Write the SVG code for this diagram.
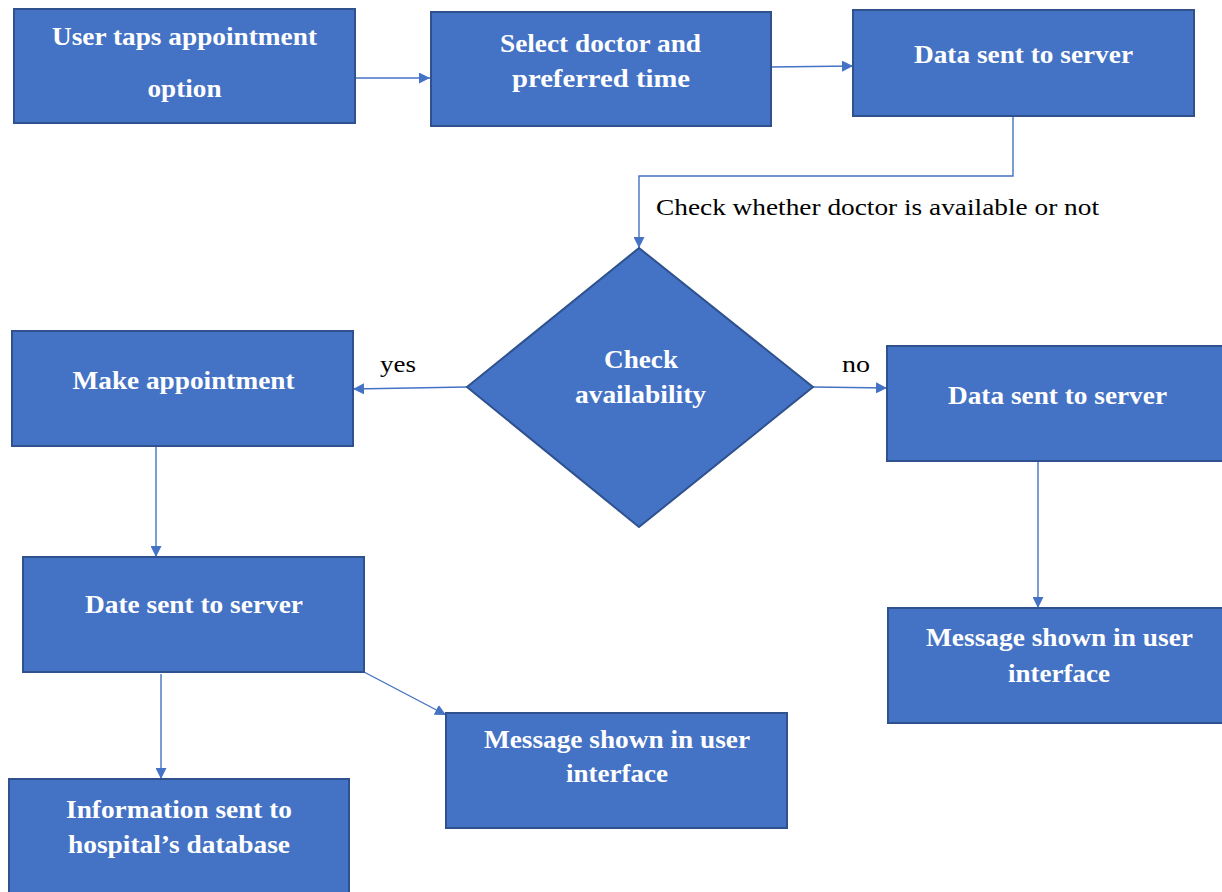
<svg xmlns="http://www.w3.org/2000/svg" width="1222" height="892" viewBox="0 0 1222 892">
<style>
.box{fill:#4472C4;stroke:#2F528F;stroke-width:2}
.t{font-family:"Liberation Serif","Times New Roman",serif;font-weight:bold;font-size:26px;fill:#FFFFFF;text-anchor:middle}
.lbl{font-family:"Liberation Serif","Times New Roman",serif;font-size:23px;fill:#000000}
.c{fill:none;stroke:#4472C4;stroke-width:1.4}
</style>
<defs>
<marker id="ah" viewBox="0 0 10 10" refX="10" refY="5" markerWidth="11" markerHeight="11" markerUnits="userSpaceOnUse" orient="auto">
<path d="M0,0 L10,5 L0,10 z" fill="#4472C4"/>
</marker>
</defs>
<rect width="1222" height="892" fill="#FFFFFF"/>
<g id="connectors">
<line class="c" x1="355" y1="78" x2="430" y2="78" marker-end="url(#ah)"/>
<line class="c" x1="771" y1="67" x2="853" y2="66" marker-end="url(#ah)"/>
<polyline class="c" points="1013,116 1013,176 639,176 639,248" marker-end="url(#ah)"/>
<line class="c" x1="467" y1="387" x2="353" y2="389" marker-end="url(#ah)"/>
<line class="c" x1="813" y1="387" x2="887" y2="388" marker-end="url(#ah)"/>
<line class="c" x1="156" y1="447" x2="156" y2="557" marker-end="url(#ah)"/>
<line class="c" x1="1038" y1="461" x2="1038" y2="608" marker-end="url(#ah)"/>
<line class="c" x1="161" y1="674" x2="161" y2="779" marker-end="url(#ah)"/>
<line class="c" x1="364" y1="672" x2="446" y2="715" marker-end="url(#ah)"/>
<text class="lbl" x="656" y="215" textLength="443" lengthAdjust="spacingAndGlyphs">Check whether doctor is available or not</text>
<text class="lbl" x="380" y="372" textLength="36" lengthAdjust="spacingAndGlyphs">yes</text>
<text class="lbl" x="842" y="372" textLength="28" lengthAdjust="spacingAndGlyphs">no</text>
</g>
<g id="n1">
<rect class="box" x="14" y="9" width="341" height="114"/>
<text class="t" x="184.5" y="45" textLength="265" lengthAdjust="spacingAndGlyphs">User taps appointment</text>
<text class="t" x="184.5" y="97" textLength="74" lengthAdjust="spacingAndGlyphs">option</text>
</g>
<g id="n2">
<rect class="box" x="431" y="12" width="340" height="114"/>
<text class="t" x="600.5" y="52" textLength="201" lengthAdjust="spacingAndGlyphs">Select doctor and</text>
<text class="t" x="601" y="87" textLength="178" lengthAdjust="spacingAndGlyphs">preferred  time</text>
</g>
<g id="n3">
<rect class="box" x="853" y="10" width="341" height="106"/>
<text class="t" x="1023.5" y="63" textLength="219" lengthAdjust="spacingAndGlyphs">Data sent to server</text>
</g>
<g id="decision">
<polygon class="box" points="639,248 813,387 639,527 467,387"/>
<text class="t" x="641" y="368" textLength="74" lengthAdjust="spacingAndGlyphs">Check</text>
<text class="t" x="640.5" y="403" textLength="131" lengthAdjust="spacingAndGlyphs">availability</text>
</g>
<g id="n4">
<rect class="box" x="12" y="331" width="341" height="115"/>
<text class="t" x="183.5" y="389" textLength="222" lengthAdjust="spacingAndGlyphs">Make appointment</text>
</g>
<g id="n5">
<rect class="box" x="887" y="346" width="340" height="115"/>
<text class="t" x="1057.5" y="404" textLength="219" lengthAdjust="spacingAndGlyphs">Data sent to server</text>
</g>
<g id="n6">
<rect class="box" x="23" y="557" width="341" height="115"/>
<text class="t" x="194" y="613" textLength="218" lengthAdjust="spacingAndGlyphs">Date sent to server</text>
</g>
<g id="n7">
<rect class="box" x="888" y="608" width="339" height="115"/>
<text class="t" x="1059.5" y="646" textLength="267" lengthAdjust="spacingAndGlyphs">Message shown in user</text>
<text class="t" x="1059" y="682" textLength="102" lengthAdjust="spacingAndGlyphs">interface</text>
</g>
<g id="n8">
<rect class="box" x="446" y="713" width="341" height="115"/>
<text class="t" x="617" y="748" textLength="266" lengthAdjust="spacingAndGlyphs">Message shown in user</text>
<text class="t" x="617" y="782" textLength="102" lengthAdjust="spacingAndGlyphs">interface</text>
</g>
<g id="n9">
<rect class="box" x="9" y="779" width="340" height="120"/>
<text class="t" x="179" y="818" textLength="226" lengthAdjust="spacingAndGlyphs">Information sent to</text>
<text class="t" x="179" y="853" textLength="222" lengthAdjust="spacingAndGlyphs">hospital’s database</text>
</g>
</svg>
